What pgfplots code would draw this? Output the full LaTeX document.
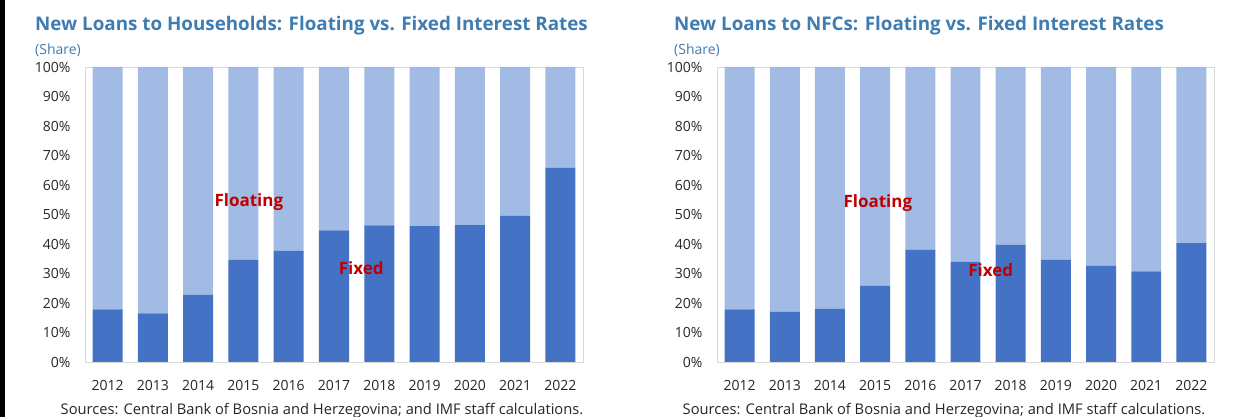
\documentclass[border=0pt]{standalone}
\usepackage{pgfplots}
\usepackage{pgfplotstable}
\pgfplotsset{compat=1.18}
\usepackage{fontspec}
\setmainfont{Open Sans}
\definecolor{titleblue}{HTML}{3E7CB1}
\definecolor{fixedc}{HTML}{4472C4}
\definecolor{floatc}{HTML}{A2BBE5}
\definecolor{lblred}{HTML}{C00000}
\definecolor{framec}{HTML}{D9D9D9}

\pgfplotstableread{
x fixed floating
0 17.8 82.2
1 16.5 83.5
2 22.8 77.2
3 34.6 65.4
4 37.7 62.3
5 44.6 55.4
6 46.3 53.7
7 46.1 53.9
8 46.4 53.6
9 49.5 50.5
10 65.8 34.2
}\hh

\pgfplotstableread{
x fixed floating
0 17.8 82.2
1 17.0 83.0
2 18.0 82.0
3 25.8 74.2
4 38.0 62.0
5 34.0 66.0
6 39.8 60.2
7 34.7 65.3
8 32.7 67.3
9 30.7 69.3
10 40.3 59.7
}\nfc

\pgfplotsset{panel/.style={
  scale only axis, height=295pt,
  xmin=-0.5, xmax=10.5, ymin=0, ymax=100,
  ybar stacked, bar width=0.663,
  xtick={0,1,2,3,4,5,6,7,8,9,10},
  xticklabels={2012,2013,2014,2015,2016,2017,2018,2019,2020,2021,2022},
  ytick={0,10,20,30,40,50,60,70,80,90,100},
  yticklabel={\pgfmathprintnumber{\tick}\%},
  /pgf/number format/assume math mode=true,
  axis line style={framec, line width=0.8pt},
  tick style={draw=none},
  ticklabel style={font=\fontsize{14}{16}\selectfont, text=black!85},
  xticklabel style={yshift=-15pt},
  yticklabel style={xshift=-11pt},
  anchor=south west,
  clip=false,
}}

\begin{document}
\begin{tikzpicture}
\useasboundingbox (0pt,0pt) rectangle (1243pt,417pt);
\fill[black] (0pt,0pt) rectangle (5pt,417pt);

% Left panel
\node[anchor=base west, font=\fontsize{18.8}{20}\selectfont\bfseries, text=titleblue, inner sep=0pt] at (35pt,386pt) {New Loans to Households: Floating vs. Fixed Interest Rates};
\node[anchor=base west, font=\fontsize{14}{16}\selectfont, text=titleblue, inner sep=0pt] at (35pt,362pt) {(Share)};
\begin{axis}[panel, width=498pt, at={(85pt,55pt)}]
\addplot[fill=fixedc, draw=none] table[x=x, y=fixed]{\hh};
\addplot[fill=floatc, draw=none] table[x=x, y=floating]{\hh};
\coordinate (flA) at (axis cs:3.12,54.2);
\coordinate (fxA) at (axis cs:5.6,31.9);
\end{axis}
\node[font=\fontsize{17}{19}\selectfont\bfseries, text=lblred] at (flA) {Floating};
\node[font=\fontsize{17}{19}\selectfont\bfseries, text=lblred] at (fxA) {Fixed};
\node[anchor=base, font=\fontsize{14.7}{16}\selectfont, text=black!85, inner sep=0pt] at (322pt,2pt) {Sources: Central Bank of Bosnia and Herzegovina; and IMF staff calculations.};

% Right panel
\node[anchor=base west, font=\fontsize{18.8}{20}\selectfont\bfseries, text=titleblue, inner sep=0pt] at (674pt,386pt) {New Loans to NFCs: Floating vs. Fixed Interest Rates};
\node[anchor=base west, font=\fontsize{14}{16}\selectfont, text=titleblue, inner sep=0pt] at (674pt,362pt) {(Share)};
\begin{axis}[panel, width=497pt, at={(717pt,55pt)}]
\addplot[fill=fixedc, draw=none] table[x=x, y=fixed]{\nfc};
\addplot[fill=floatc, draw=none] table[x=x, y=floating]{\nfc};
\coordinate (flB) at (axis cs:3.06,54);
\coordinate (fxB) at (axis cs:5.56,31.2);
\end{axis}
\node[font=\fontsize{17}{19}\selectfont\bfseries, text=lblred] at (flB) {Floating};
\node[font=\fontsize{17}{19}\selectfont\bfseries, text=lblred] at (fxB) {Fixed};
\node[anchor=base, font=\fontsize{14.7}{16}\selectfont, text=black!85, inner sep=0pt] at (944pt,2pt) {Sources: Central Bank of Bosnia and Herzegovina; and IMF staff calculations.};
\end{tikzpicture}
\end{document}
